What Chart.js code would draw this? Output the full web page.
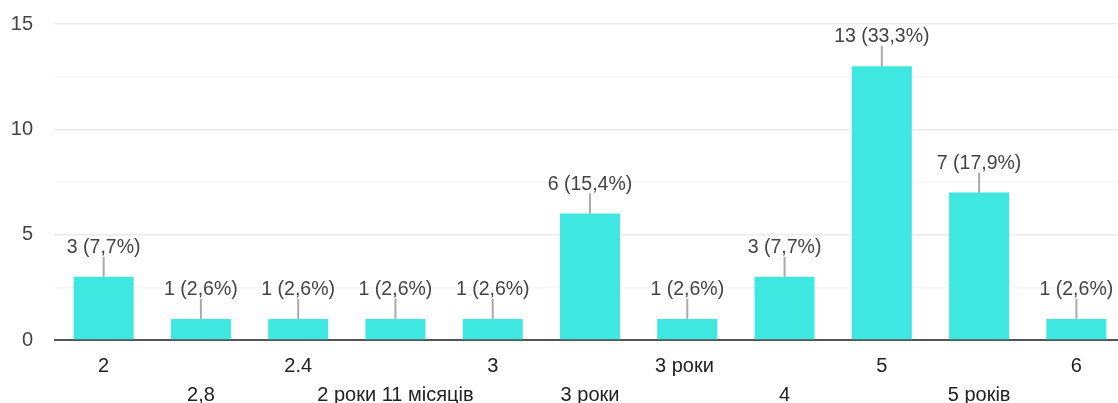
<!DOCTYPE html>
<html>
<head>
<meta charset="utf-8">
<script src="https://cdn.jsdelivr.net/npm/chart.js@4.4.1/dist/chart.umd.min.js"></script>
<style>
  html, body { margin: 0; padding: 0; background: #fff; overflow: hidden; }
  #wrap { position: absolute; left: 0; top: 0; width: 1125px; height: 403px; }
</style>
</head>
<body>
<div id="wrap"><canvas id="chart"></canvas></div>
<script>
// Відповіді (категорії) і кількість
const categories = ['2', '2,8', '2.4', '2 роки 11 місяців', '3', '3 роки', '3 роки ', '4', '5', '5 років', '6'];
const counts = [3, 1, 1, 1, 1, 6, 1, 3, 13, 7, 1];
const totalResponses = 39; // всього відповідей (частина не видна на графіку)
const yTicks = [0, 5, 10, 15];

const barColor = '#3ee8e0';
const fontFamily = '"Liberation Sans", Arial, sans-serif';

// Підписи над стовпцями з лінією-виноскою
const valueLabels = {
    id: 'valueLabels',
    afterDatasetsDraw(chart) {
        const ctx = chart.ctx;
        const meta = chart.getDatasetMeta(0);
        ctx.save();
        ctx.font = `19.5px ${fontFamily}`;
        ctx.textAlign = 'center';
        ctx.textBaseline = 'alphabetic';
        meta.data.forEach((bar, i) => {
            const v = counts[i];
            const pct = (v / totalResponses * 100).toFixed(1).replace('.', ',');
            ctx.strokeStyle = '#aaaaaa';
            ctx.lineWidth = 2;
            ctx.beginPath();
            ctx.moveTo(bar.x, bar.y);
            ctx.lineTo(bar.x, bar.y - 20);
            ctx.stroke();
            ctx.fillStyle = '#444';
            ctx.fillText(`${v} (${pct}%)`, bar.x, bar.y - 24);
        });
        ctx.restore();
    }
};

new Chart(document.getElementById('chart'), {
    type: 'bar',
    data: {
        labels: categories,
        datasets: [{
            data: counts,
            backgroundColor: barColor,
            borderWidth: 0,
            barPercentage: 0.617,
            categoryPercentage: 1
        }]
    },
    options: {
        responsive: true,
        maintainAspectRatio: false,
        animation: false,
        layout: { padding: { left: 0, top: 19, right: 0, bottom: 0 } },
        plugins: {
            legend: { display: false },
            tooltip: { enabled: false }
        },
        scales: {
            x: {
                grid: { display: false },
                border: { display: true, color: '#555', width: 2 },
                afterFit: s => { s.height = 63; },
                ticks: {
                    autoSkip: false,
                    maxRotation: 0,
                    padding: 4,
                    color: '#222',
                    font: { family: fontFamily, size: 20, lineHeight: 1.45 },
                    callback: (v, i) => i % 2 === 0 ? categories[i] : ['', categories[i]]
                }
            },
            y: {
                min: 0,
                max: 15,
                border: { display: false },
                afterFit: s => { s.width = 55; },
                grid: {
                    drawTicks: false,
                    color: ctx => yTicks.includes(ctx.tick.value) ? '#ebebeb' : '#f6f6f6',
                    lineWidth: 1.5
                },
                ticks: {
                    stepSize: 2.5,
                    padding: 22,
                    color: '#444',
                    font: { family: fontFamily, size: 20, lineHeight: 0.2 },
                    callback: v => yTicks.includes(v) ? v : ''
                }
            }
        }
    },
    plugins: [valueLabels]
});
</script>
</body>
</html>
